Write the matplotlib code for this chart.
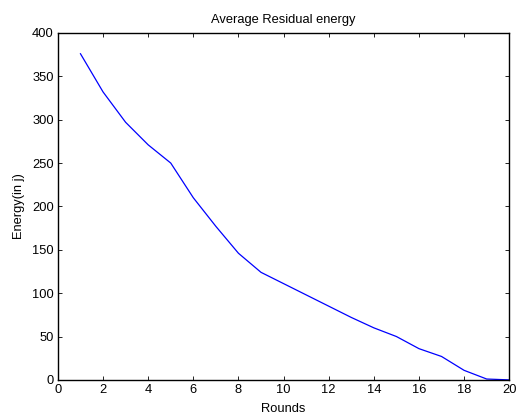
import matplotlib
matplotlib.use("Agg")
import matplotlib.pyplot as plt

# data
rounds = [1, 2, 3, 4, 5, 6, 7, 8, 9, 10, 11, 12, 13, 14, 15, 16, 17, 18, 19, 20]
energy = [376, 332, 297, 271, 250, 210, 177, 146, 124, 111, 98, 85, 72, 60, 50, 36, 27, 11, 1, 0]

xticks = [0, 2, 4, 6, 8, 10, 12, 14, 16, 18, 20]
yticks = [0, 50, 100, 150, 200, 250, 300, 350, 400]

plt.rcParams['font.family'] = ['Liberation Sans', 'DejaVu Sans']
fs = 9.3

fig = plt.figure(figsize=(5.17, 4.17), dpi=100)
ax = fig.add_axes([0.112, 0.089, 0.873, 0.832])
ax.plot(rounds, energy, color='blue', linewidth=0.9)

ax.set_xlim(0, 20)
ax.set_ylim(0, 400)
ax.set_xticks(xticks)
ax.set_yticks(yticks)
ax.tick_params(direction='in', top=True, right=True, length=3, width=0.6, labelsize=fs, pad=3)
for s in ax.spines.values():
    s.set_linewidth(1.0)

ax.set_title("Average Residual energy", fontsize=fs, pad=7)
ax.set_xlabel("Rounds", fontsize=fs, labelpad=5)
ax.set_ylabel("Energy(in j)", fontsize=fs, labelpad=5)

fig.savefig("out.png", dpi=100)
